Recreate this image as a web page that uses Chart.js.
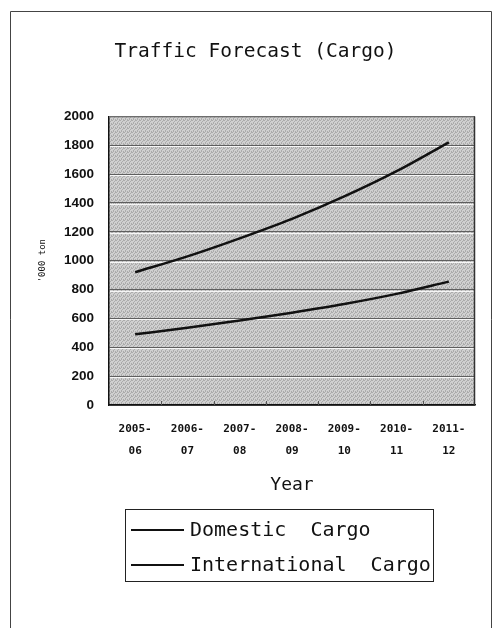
<!DOCTYPE html>
<html>
<head>
<meta charset="utf-8">
<script src="https://cdn.jsdelivr.net/npm/chart.js@4"></script>
<style>
  html, body { margin: 0; padding: 0; background: #fff; }
  #wrap { width: 503px; height: 628px; }
</style>
</head>
<body>
<div id="wrap"><canvas id="cargoChart" width="503" height="628"></canvas></div>
<script>
var years = [["2005-", "06"], ["2006-", "07"], ["2007-", "08"], ["2008-", "09"], ["2009-", "10"], ["2010-", "11"], ["2011-", "12"]]
var domesticCargo = [920, 1030, 1155, 1290, 1445, 1620, 1820]
var internationalCargo = [490, 535, 585, 640, 700, 770, 855]
var yTicks = [0, 200, 400, 600, 800, 1000, 1200, 1400, 1600, 1800, 2000]

var mono = "'DejaVu Sans Mono', 'Liberation Mono', monospace"

// gray stipple like the scanned fill
function makePattern(ctx) {
    var c = document.createElement("canvas")
    c.width = 4
    c.height = 4
    var p = c.getContext("2d")
    p.fillStyle = "#d0d0d0"
    p.fillRect(0, 0, 4, 4)
    p.fillStyle = "#ababab"
    p.fillRect(0, 0, 1, 1)
    p.fillRect(2, 1, 1, 1)
    p.fillRect(1, 2, 1, 1)
    p.fillRect(3, 3, 1, 1)
    p.fillRect(3, 0, 1, 1)
    p.fillRect(1, 3, 1, 1)
    return ctx.createPattern(c, "repeat")
}

var framePlugin = {
    id: "frame",
    beforeDraw(chart) {
        var ctx = chart.ctx
        var a = chart.chartArea
        ctx.save()
        ctx.fillStyle = "#fff"
        ctx.fillRect(0, 0, chart.width, chart.height)
        // outer page box
        ctx.strokeStyle = "#444"
        ctx.lineWidth = 1
        ctx.beginPath()
        ctx.moveTo(10.5, chart.height)
        ctx.lineTo(10.5, 11.5)
        ctx.lineTo(491.5, 11.5)
        ctx.lineTo(491.5, chart.height)
        ctx.stroke()
        ctx.fillStyle = makePattern(ctx)
        ctx.fillRect(a.left, a.top, a.right - a.left, a.bottom - a.top)
        ctx.restore()
    },
    beforeDatasetsDraw(chart) {
        // white scan streak just under each gridline
        var ctx = chart.ctx
        var a = chart.chartArea
        var y = chart.scales.y
        ctx.save()
        ctx.fillStyle = "rgba(255,255,255,0.85)"
        yTicks.forEach(function (v) {
            if (v == 0 || v == 2000) return
            var py = Math.round(y.getPixelForValue(v))
            ctx.fillRect(a.left + 1, py + 1, a.right - a.left - 2, 1)
        })
        ctx.restore()
    },
    afterDatasetsDraw(chart) {
        var ctx = chart.ctx
        var a = chart.chartArea
        var x = chart.scales.x
        ctx.save()
        ctx.strokeStyle = "#777"
        ctx.lineWidth = 1
        ctx.beginPath()
        ctx.moveTo(a.left, a.top + 0.5)
        ctx.lineTo(a.right - 0.5, a.top + 0.5)
        ctx.stroke()
        ctx.strokeStyle = "#333"
        ctx.lineWidth = 1.5
        ctx.beginPath()
        ctx.moveTo(a.right - 0.5, a.top)
        ctx.lineTo(a.right - 0.5, a.bottom)
        ctx.stroke()
        // small inward ticks between categories
        ctx.strokeStyle = "#555"
        ctx.lineWidth = 1
        for (var i = 1; i < years.length; i++) {
            var px = Math.round(x.getPixelForValue(i - 0.5)) + 0.5
            ctx.beginPath()
            ctx.moveTo(px, a.bottom)
            ctx.lineTo(px, a.bottom - 4)
            ctx.stroke()
        }
        ctx.restore()
    },
    afterDraw(chart) {
        // legend box
        var ctx = chart.ctx
        var box = { left: 125.5, top: 509.5, right: 433.5, bottom: 581.5 }
        ctx.save()
        ctx.strokeStyle = "#222"
        ctx.lineWidth = 1
        ctx.strokeRect(box.left, box.top, box.right - box.left, box.bottom - box.top)
        var rows = [530, 565]
        ctx.font = "20px " + mono
        ctx.textBaseline = "middle"
        ctx.fillStyle = "#111"
        chart.data.datasets.forEach(function (ds, i) {
            ctx.strokeStyle = ds.borderColor
            ctx.lineWidth = 2
            ctx.beginPath()
            ctx.moveTo(131, rows[i])
            ctx.lineTo(184, rows[i])
            ctx.stroke()
            ctx.fillText(ds.label, 190, rows[i] + 1)
        })
        ctx.restore()
    }
}

window.onload = function () {
    var ctx = document.getElementById("cargoChart").getContext("2d")
    new Chart(ctx, {
        type: "line",
        data: {
            labels: years,
            datasets: [{
                label: "Domestic  Cargo",
                data: domesticCargo,
                borderColor: "#111",
                borderWidth: 2.5,
                pointRadius: 0,
                cubicInterpolationMode: "monotone",
                fill: false
            }, {
                label: "International  Cargo",
                data: internationalCargo,
                borderColor: "#111",
                borderWidth: 2.5,
                pointRadius: 0,
                cubicInterpolationMode: "monotone",
                fill: false
            }]
        },
        options: {
            responsive: false,
            animation: false,
            devicePixelRatio: 1,
            layout: { padding: { left: 36, right: 28, top: 0, bottom: 128 } },
            plugins: {
                legend: { display: false },
                tooltip: { enabled: false },
                title: {
                    display: true,
                    text: "Traffic Forecast (Cargo)",
                    color: "#111",
                    font: { family: mono, size: 19.5, weight: "normal" },
                    padding: { top: 40, bottom: 53 }
                }
            },
            scales: {
                x: {
                    offset: true,
                    grid: { display: false },
                    border: { color: "#111", width: 1.5 },
                    ticks: {
                        color: "#111",
                        font: { family: mono, size: 11, weight: "bold", lineHeight: 2 },
                        padding: 5,
                        maxRotation: 0,
                        autoSkip: false
                    },
                    title: {
                        display: true,
                        text: "Year",
                        color: "#111",
                        font: { family: mono, size: 18 },
                        padding: { top: 0, bottom: 4 }
                    },
                    afterFit(scale) { scale.height = 95 }
                },
                y: {
                    min: 0,
                    max: 2000,
                    afterBuildTicks(scale) {
                        scale.ticks = yTicks.map(function (v) { return { value: v } })
                    },
                    grid: { color: "#5e5e5e", lineWidth: 1, drawTicks: false },
                    border: { color: "#111", width: 1.5 },
                    ticks: {
                        color: "#111",
                        font: { family: "'Liberation Sans', Arial, sans-serif", size: 13.5, weight: "bold" },
                        padding: 15,
                        callback: function (v) { return String(v) }
                    },
                    title: {
                        display: true,
                        text: "'000 ton",
                        color: "#111",
                        font: { family: mono, size: 9 },
                        padding: { top: 1, bottom: 0 }
                    },
                    afterFit(scale) { scale.width = 73 }
                }
            }
        },
        plugins: [framePlugin]
    })
}
</script>
</body>
</html>
